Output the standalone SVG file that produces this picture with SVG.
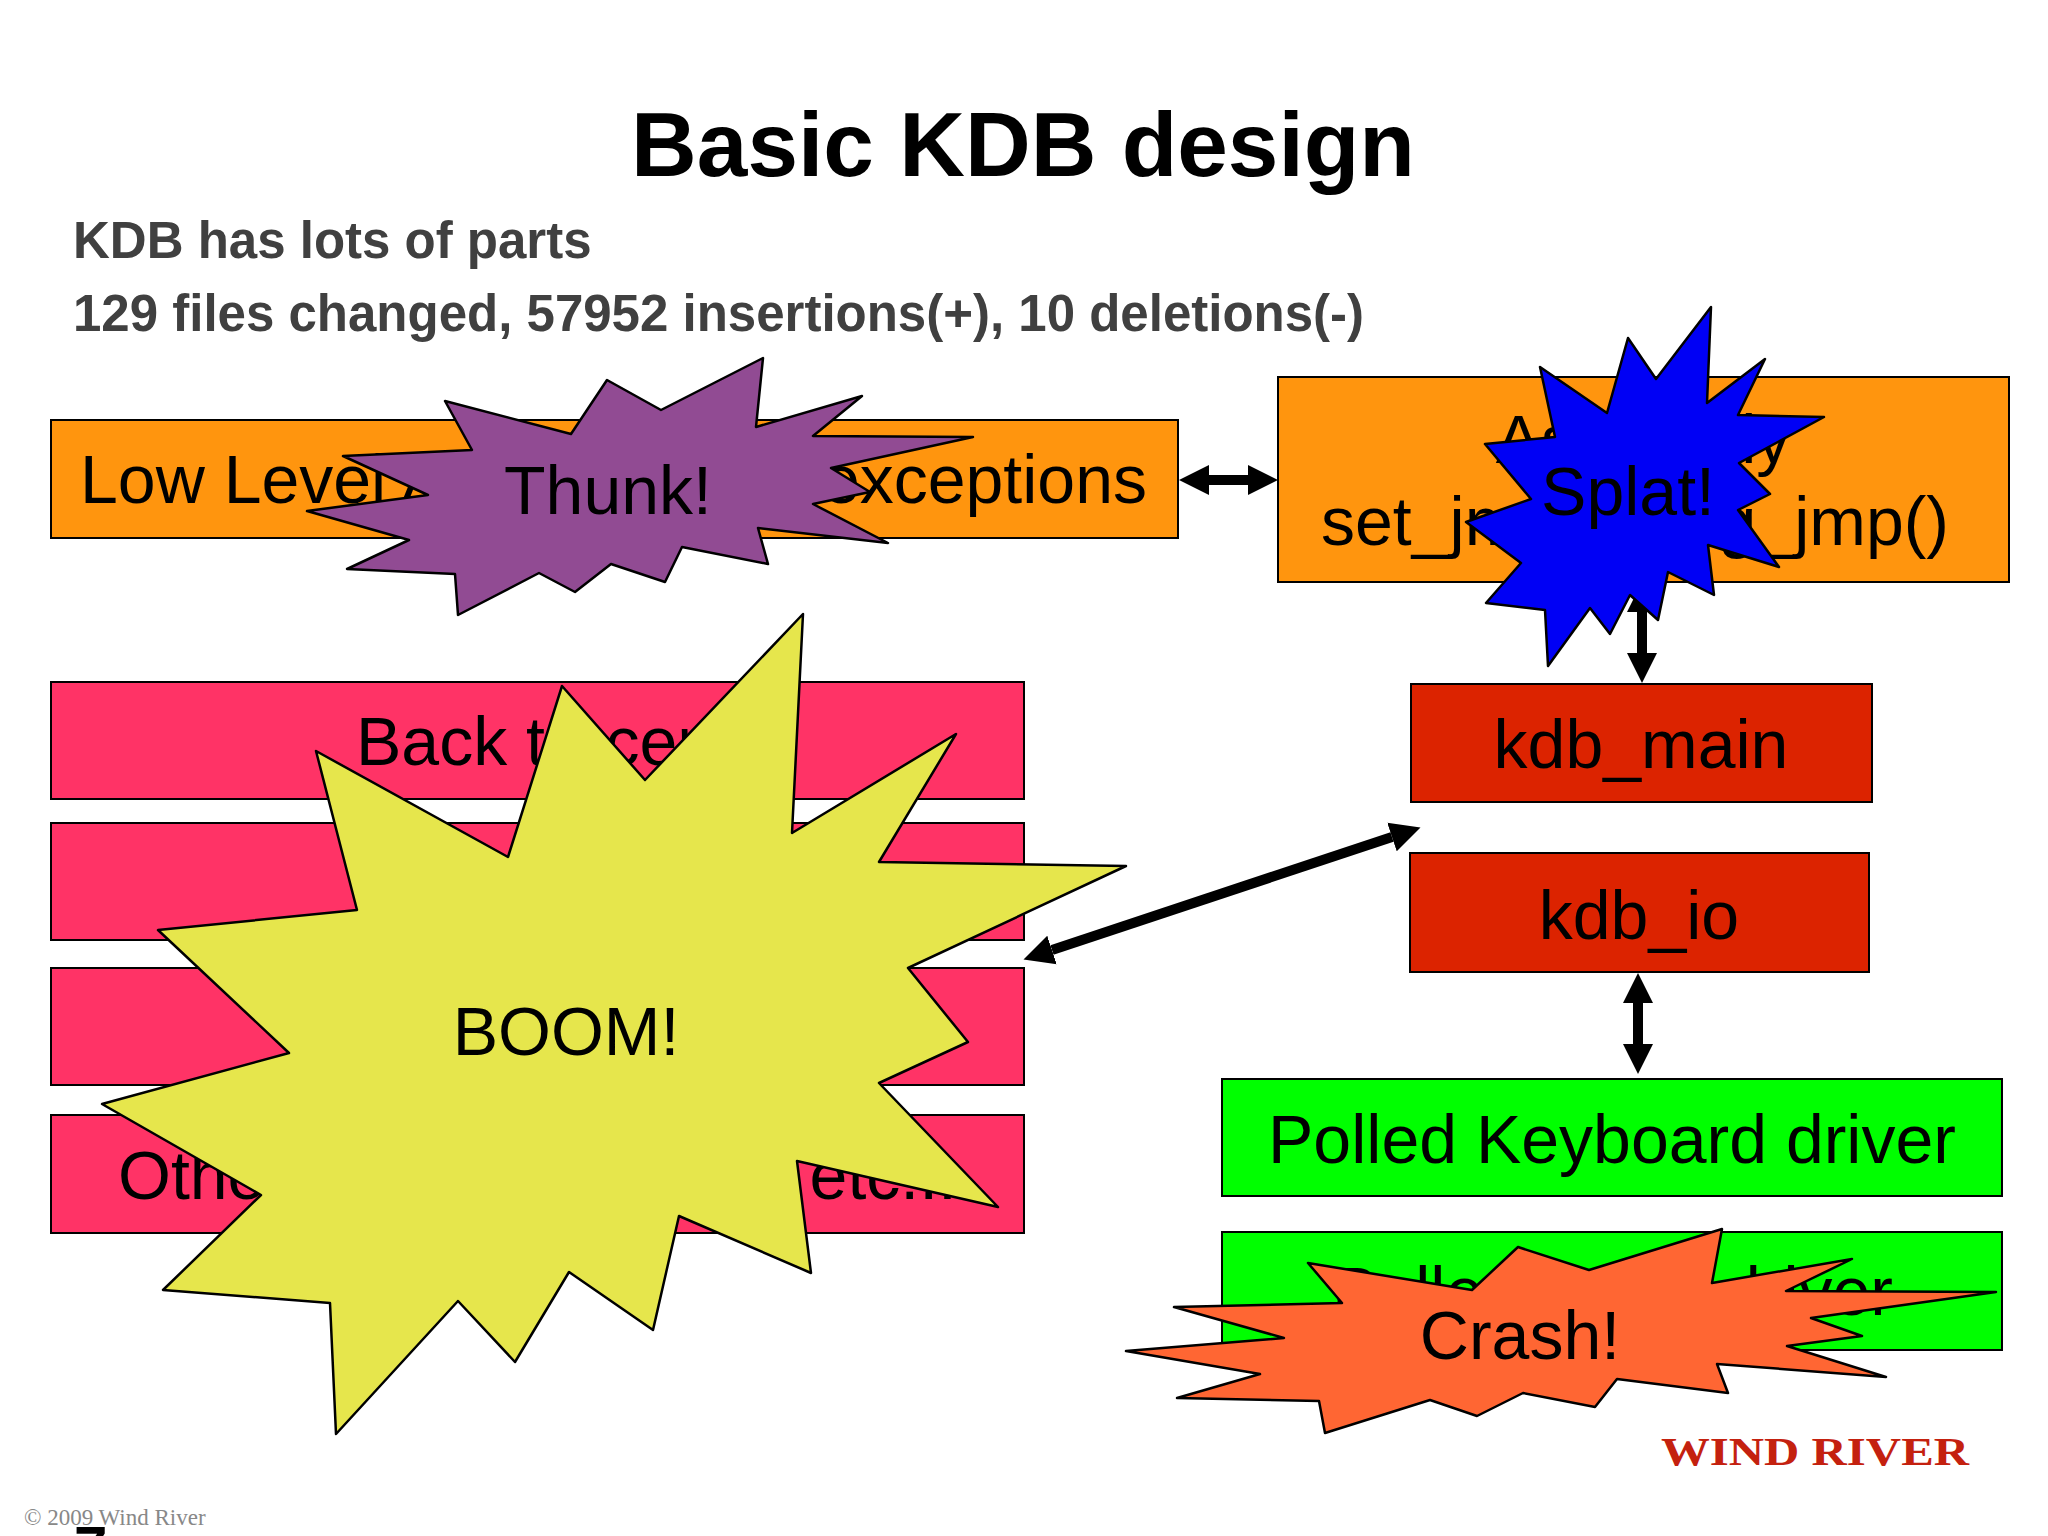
<svg xmlns="http://www.w3.org/2000/svg" width="2048" height="1536" viewBox="0 0 2048 1536">
<style>
text{font-family:"Liberation Sans",Arial,sans-serif;fill:#000}
.b{font-size:68px}
.box{stroke:#000;stroke-width:2}
.star{stroke:#000;stroke-width:2.5;stroke-linejoin:round}
.sub{font-size:51px;font-weight:bold;fill:#404040}
.m{text-anchor:middle}
.e{text-anchor:end}
.c{fill:none;stroke:#000;stroke-width:10;marker-start:url(#h);marker-end:url(#h)}
</style>
<defs>
<marker id="h" markerUnits="userSpaceOnUse" markerWidth="32" markerHeight="32" refX="0" refY="16" orient="auto-start-reverse"><path d="M0 1L30 16L0 31z" fill="#000"/></marker>
</defs>
<rect width="2048" height="1536" fill="#fff"/>
<g id="title"><text x="1023" y="176" class="m" font-size="91" font-weight="bold">Basic KDB design</text></g>
<g id="subtitle"><text x="73" y="258" class="sub">KDB has lots of parts</text><text x="73" y="331" class="sub">129 files changed, 57952 insertions(+), 10 deletions(-)</text></g>
<g id="node-low-level"><rect class="box" x="51" y="420" width="1127" height="118" fill="#ff950e"/><text class="b" x="80" y="503">Low Level A</text><text class="b e" x="1147" y="503">exceptions</text></g>
<g id="node-assembly"><rect class="box" x="1278" y="377" width="731" height="205" fill="#ff950e"/><text class="b m" x="1643" y="463">Assembly</text><text class="b" x="1321" y="545">set_jmp()</text><text class="b e" x="1949" y="545">long_jmp()</text></g>
<g id="node-back-tracer"><rect class="box" x="51" y="682" width="973" height="117" fill="#ff3366"/><text class="b" x="356" y="765">Back tracer</text></g>
<g id="node-pink-2"><rect class="box" x="51" y="823" width="973" height="117" fill="#ff3366"/></g>
<g id="node-pink-3"><rect class="box" x="51" y="968" width="973" height="117" fill="#ff3366"/></g>
<g id="node-other"><rect class="box" x="51" y="1115" width="973" height="118" fill="#ff3366"/><text class="b" x="118" y="1199">Other</text><text class="b e" x="957" y="1199">etc...</text></g>
<g id="node-kdb-main"><rect class="box" x="1411" y="684" width="461" height="118" fill="#dc2300"/><text class="b m" x="1641" y="768">kdb_main</text></g>
<g id="node-kdb-io"><rect class="box" x="1410" y="853" width="459" height="119" fill="#dc2300"/><text class="b m" x="1639" y="939">kdb_io</text></g>
<g id="node-polled-keyboard"><rect class="box" x="1222" y="1079" width="780" height="117" fill="#00ff00"/><text class="b" x="1268" y="1163">Polled Keyboard driver</text></g>
<g id="node-polled-2"><rect class="box" x="1222" y="1232" width="780" height="118" fill="#00ff00"/><text class="b" x="1332" y="1315">Polled</text><text class="b e" x="1893" y="1315">driver</text></g>
<g id="connectors">
<path class="c" d="M1209 480H1248"/>
<path class="c" d="M1642 612V653"/>
<path class="c" d="M1052 950L1392 837"/>
<path class="c" d="M1638 1003V1044"/>
</g>
<g id="burst-thunk"><polygon class="star" fill="#914b93" points="763,358 756,427 862,396 813,436 973,437 831,468 870,492 813,504 888,543 758,528 768,564 682,547 665,582 611,564 575,592 539,573 458,615 455,574 347,569 409,540 307,511 428,495 343,456 472,450 445,401 571,434 607,380 661,410"/><text class="b m" x="608" y="514">Thunk!</text></g>
<g id="burst-splat"><polygon class="star" fill="#0000f5" points="1711,307 1707,403 1765,359 1738,415 1824,417 1739,463 1770,494 1738,510 1779,567 1708,545 1714,595 1668,572 1658,620 1630,595 1610,634 1590,608 1548,666 1545,610 1486,603 1521,563 1466,522 1531,499 1485,444 1555,437 1540,367 1607,413 1628,338 1656,379"/><text class="b m" x="1628" y="515">Splat!</text></g>
<g id="burst-boom"><polygon class="star" fill="#e6e64c" points="803,614 792,833 956,734 879,862 1126,866 908,968 968,1042 879,1083 998,1207 797,1161 811,1273 679,1216 653,1330 569,1272 515,1362 458,1301 336,1434 330,1303 163,1290 261,1195 102,1104 289,1053 158,930 357,910 316,751 508,857 562,686 645,780"/><text class="b m" x="566" y="1055">BOOM!</text></g>
<g id="burst-crash"><polygon class="star" fill="#ff6633" points="1722,1229 1712,1283 1852,1259 1786,1291 1996,1292 1811,1318 1862,1336 1787,1346 1886,1377 1717,1364 1728,1393 1617,1379 1595,1407 1523,1393 1477,1416 1430,1400 1325,1433 1319,1401 1177,1398 1260,1374 1126,1351 1284,1338 1174,1307 1342,1303 1308,1263 1472,1290 1518,1247 1589,1270"/><text class="b m" x="1520" y="1359">Crash!</text></g>
<g id="logo"><text x="1661" y="1465" font-size="41" font-weight="bold" textLength="308" lengthAdjust="spacingAndGlyphs" style="font-family:'Liberation Serif',serif;fill:#c4210f">WIND RIVER</text></g>
<g id="footer"><text x="24" y="1525" font-size="23" style="font-family:'Liberation Serif',serif;fill:#888">© 2009 Wind River</text><text x="74" y="1568" font-size="60" font-weight="bold">7</text></g>
</svg>
